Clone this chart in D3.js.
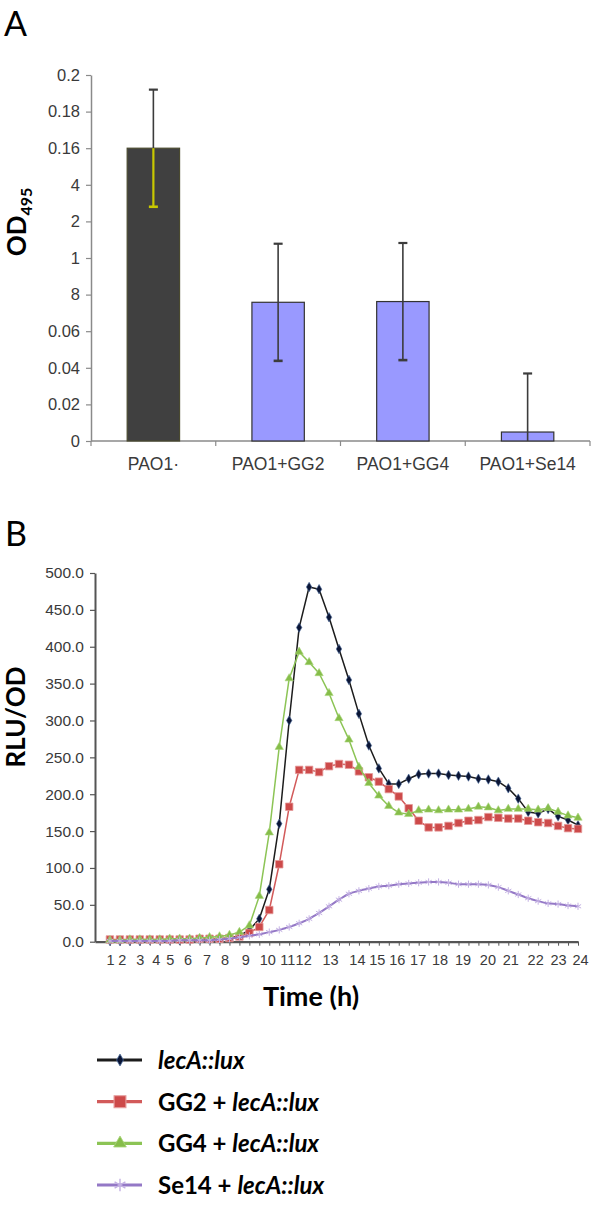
<!DOCTYPE html>
<html><head><meta charset="utf-8">
<script src="https://cdn.jsdelivr.net/npm/d3@7"></script>
<style>body{margin:0;background:#fff} svg{display:block;background:#fff}</style>
</head><body>
<svg id="c" width="600" height="1205"></svg>
<script>
// ---------- Panel A data ----------
const categoriesA = ["PAO1\u00b7", "PAO1+GG2", "PAO1+GG4", "PAO1+Se14"];
const od495 = [0.160, 0.0758, 0.0762, 0.0049];
const od495Err = [0.032, 0.032, 0.032, 0.032];
const yTicksA = [0, 0.02, 0.04, 0.06, 0.08, 0.10, 0.12, 0.14, 0.16, 0.18, 0.20];
const yTickLabelsA = ["0", "0.02", "0.04", "0.06", "8", "1", "2", "4", "0.16", "0.18", "0.2"];

// ---------- Panel B data ----------
const hourLabels = ["1","2","3","4","5","6","7","8","9","10","11","12","13","14","15","16","17","18","19","20","21","22","23","24"];
// sample index (reading) under which each hour label sits
const hourAtSample = [0, 1.2, 3, 4.6, 6, 7.8, 9.7, 11.5, 13.6, 15.8, 17.8, 19.4, 22.1, 24.8, 26.8, 28.8, 30.9, 33.1, 35.4, 37.9, 40.2, 42.7, 45, 47.2];
const lecA = [1,1,1,1,2,2,2,2,3,3,3,4,5,8,16,31,71,160,300,426,481,478,440,397,355,309,266,235,214,214,221,227,228,228,226,225,224,221,220,217,208,194,176,174,180,170,165,158];
const gg2  = [3,3,3,3,3,3,3,3,3,4,4,4,5,7,12,20,43,105,183,233,233,230,238,241,240,231,223,217,207,197,181,164,155,155,157,161,164,165,169,168,167,167,164,162,161,157,154,153];
const gg4  = [2,2,3,3,3,3,4,4,4,5,6,7,9,13,22,62,148,264,357,393,379,364,337,303,274,237,215,198,184,175,173,178,179,178,179,179,180,183,182,178,180,180,180,179,181,176,171,168];
const se14 = [1,1,1,1,1,1,1,2,2,2,2,3,4,6,8,10,13,16,20,25,31,39,48,57,65,69,72,75,76,78,79,80,81,81,80,78,78,78,77,74,69,64,59,55,52,51,49,48];
const yTicksB = [0,50,100,150,200,250,300,350,400,450,500];
const yTickLabelsB = ["0.0","50.0","100.0","150.0","200.0","250.0","300.0","350.0","400.0","450.0","500.0"];
const seriesNames = ["lecA::lux", "GG2 + lecA::lux", "GG4 + lecA::lux", "Se14 + lecA::lux"];

const svg = d3.select("#c");
const ARIAL = "'Liberation Sans', Arial, sans-serif";
const CAL = "Lato, 'Open Sans', sans-serif";

// ================= Panel A =================
svg.append("text").attr("x", 4).attr("y", 36).attr("font-family", CAL)
  .attr("font-size", 34).attr("fill", "#000").text("A");

const xA = d3.scaleBand().domain(categoriesA).range([91, 590]);
const yA = d3.scaleLinear().domain([0, 0.2]).range([441, 75]);

const gyA = svg.append("g").attr("transform", "translate(91,0)")
  .call(d3.axisLeft(yA).tickValues(yTicksA).tickFormat((d, i) => yTickLabelsA[i])
    .tickSize(5).tickSizeOuter(0).tickPadding(6));
gyA.select(".domain").attr("stroke", "#8a8a8a").attr("stroke-width", 1.5);
gyA.selectAll(".tick line").attr("stroke", "#8a8a8a").attr("stroke-width", 1.2);
gyA.selectAll("text").attr("font-family", ARIAL).attr("font-size", 16.5).attr("fill", "#3a3a3a");

// x axis with boundary ticks
const gxA = svg.append("g").attr("transform", "translate(0,441)");
gxA.append("line").attr("x1", xA.range()[0]).attr("x2", xA.range()[1])
  .attr("stroke", "#8a8a8a").attr("stroke-width", 1.5);
const bounds = categoriesA.map(c => xA(c)).concat([xA.range()[1]]);
gxA.selectAll("line.bt").data(bounds).join("line").attr("class", "bt")
  .attr("x1", d => d).attr("x2", d => d).attr("y1", 0).attr("y2", 5)
  .attr("stroke", "#8a8a8a").attr("stroke-width", 1.2);
gxA.selectAll("text").data(categoriesA).join("text")
  .attr("x", d => xA(d) + xA.bandwidth() / 2).attr("y", 29)
  .attr("text-anchor", "middle").attr("font-family", ARIAL).attr("font-size", 17.5)
  .attr("fill", "#3a3a3a").text(d => d);

// bars
const barW = xA.bandwidth() * 0.42;
svg.append("g").selectAll("rect").data(categoriesA).join("rect")
  .attr("x", d => xA(d) + (xA.bandwidth() - barW) / 2)
  .attr("y", (d, i) => yA(od495[i]))
  .attr("width", barW)
  .attr("height", (d, i) => yA(0) - yA(od495[i]))
  .attr("fill", (d, i) => i === 0 ? "#404040" : "#9999ff")
  .attr("stroke", (d, i) => i === 0 ? "#4a4a30" : "#333")
  .attr("stroke-width", 1.2);

// error bars
const gErr = svg.append("g");
categoriesA.forEach((c, i) => {
  const cx = xA(c) + xA.bandwidth() / 2;
  const hi = od495[i] + od495Err[i];
  const lo = Math.max(0, od495[i] - od495Err[i]);
  const upCol = "#3c3c3c";
  const loCol = i === 0 ? "#c8c800" : "#3c3c3c";
  gErr.append("line").attr("x1", cx).attr("x2", cx).attr("y1", yA(hi)).attr("y2", yA(od495[i]))
    .attr("stroke", upCol).attr("stroke-width", 1.6);
  gErr.append("line").attr("x1", cx - 4.5).attr("x2", cx + 4.5).attr("y1", yA(hi)).attr("y2", yA(hi))
    .attr("stroke", upCol).attr("stroke-width", 2.2);
  gErr.append("line").attr("x1", cx).attr("x2", cx).attr("y1", yA(od495[i])).attr("y2", yA(lo))
    .attr("stroke", loCol).attr("stroke-width", i === 0 ? 2.2 : 1.6);
  if (od495[i] - od495Err[i] > 0) {
    gErr.append("line").attr("x1", cx - 4.5).attr("x2", cx + 4.5).attr("y1", yA(lo)).attr("y2", yA(lo))
      .attr("stroke", loCol).attr("stroke-width", 2.6);
  }
});

// y title
const tA = svg.append("text").attr("transform", "translate(26,222) rotate(-90)")
  .attr("text-anchor", "middle").attr("font-family", CAL).attr("font-weight", "bold").attr("fill", "#000");
tA.append("tspan").attr("font-size", 26).text("OD");
tA.append("tspan").attr("font-size", 16).attr("dy", 6).text("495");

// ================= Panel B =================
svg.append("text").attr("x", 5).attr("y", 546).attr("font-family", CAL)
  .attr("font-size", 34).attr("fill", "#000").text("B");

const xB = d3.scaleLinear().domain([-1.5, 47]).range([95, 578]);
const yB = d3.scaleLinear().domain([0, 500]).range([941.7, 573]);

const gyB = svg.append("g").attr("transform", "translate(95,0)")
  .call(d3.axisLeft(yB).tickValues(yTicksB).tickFormat((d, i) => yTickLabelsB[i])
    .tickSize(5).tickSizeOuter(0).tickPadding(6));
gyB.select(".domain").attr("stroke", "#555").attr("stroke-width", 2);
gyB.selectAll(".tick line").attr("stroke", "#555").attr("stroke-width", 1.2);
gyB.selectAll("text").attr("font-family", ARIAL).attr("font-size", 15.5).attr("fill", "#3a3a3a");

const sampleIdx = d3.range(lecA.length);
const gxB = svg.append("g").attr("transform", "translate(0,941.7)")
  .call(d3.axisBottom(xB).tickValues(sampleIdx).tickFormat("").tickSize(4).tickSizeOuter(0));
gxB.select(".domain").attr("stroke", "#555").attr("stroke-width", 2.2);
gxB.selectAll(".tick line").attr("stroke", "#555").attr("stroke-width", 1);
const gxBl = svg.append("g").attr("transform", "translate(0,941.7)")
  .call(d3.axisBottom(xB).tickValues(hourAtSample).tickFormat((d, i) => hourLabels[i]).tickSize(0).tickPadding(13));
gxBl.select(".domain").remove();
gxBl.selectAll("text").attr("font-family", ARIAL).attr("font-size", 14.5).attr("fill", "#3a3a3a");

svg.append("text").attr("x", 311).attr("y", 1006).attr("text-anchor", "middle")
  .attr("font-family", CAL).attr("font-weight", "bold").attr("font-size", 27).attr("fill", "#000")
  .text("Time (h)");
svg.append("text").attr("transform", "translate(25,717) rotate(-90)").attr("text-anchor", "middle")
  .attr("font-family", CAL).attr("font-weight", "bold").attr("font-size", 26).attr("fill", "#000")
  .text("RLU/OD");

const seriesData = [lecA, gg2, gg4, se14];
const styles = [
  { line: "#1c1c1c", lw: 1.5, sym: d3.symbolDiamond, size: 26, legSize: 40, fill: "#0b1535", stroke: "#4a6a9a", sw: 0.6, curve: d3.curveLinear },
  { line: "#d25a5a", lw: 1.5, sym: d3.symbolSquare, size: 56, legSize: 140, fill: "#cd4a4a", stroke: "#e59a9a", sw: 0.8, curve: d3.curveLinear },
  { line: "#8cc455", lw: 1.5, sym: d3.symbolTriangle, size: 30, legSize: 70, fill: "#86bd4a", stroke: "#a8d57a", sw: 0.6, curve: d3.curveLinear },
  { line: "#9478c6", lw: 2, sym: d3.symbolAsterisk, size: 36, legSize: 110, fill: "none", stroke: "#c3b0e3", sw: 1, curve: d3.curveMonotoneX }
];
const gLines = svg.append("g");
seriesData.forEach((vals, s) => {
  const st = styles[s];
  const line = d3.line().x((d, i) => xB(i)).y(d => yB(d)).curve(st.curve);
  gLines.append("path").datum(vals).attr("d", line).attr("fill", "none")
    .attr("stroke", st.line).attr("stroke-width", st.lw).attr("stroke-linejoin", "round");
  gLines.append("g").selectAll("path").data(vals).join("path")
    .attr("transform", (d, i) => `translate(${xB(i)},${yB(d)})`)
    .attr("d", d3.symbol().type(st.sym).size(st.size))
    .attr("fill", st.fill).attr("stroke", st.stroke).attr("stroke-width", st.sw);
});

// legend
const legRowsY = d3.scalePoint().domain(seriesNames).range([1060, 1185]);
const gLeg = svg.append("g");
seriesNames.forEach((name, s) => {
  const st = styles[s];
  const y = legRowsY(name);
  gLeg.append("line").attr("x1", 97).attr("x2", 142).attr("y1", y).attr("y2", y)
    .attr("stroke", st.line).attr("stroke-width", 3.2);
  gLeg.append("path").attr("transform", `translate(120,${y})`)
    .attr("d", d3.symbol().type(st.sym).size(st.legSize))
    .attr("fill", st.fill).attr("stroke", st.stroke).attr("stroke-width", st.sw * 1.4);
  const t = gLeg.append("text").attr("x", 158).attr("y", y + 9)
    .attr("font-family", CAL).attr("font-weight", "bold").attr("font-size", 24).attr("fill", "#000");
  const parts = name.split("lecA::lux");
  if (parts[0]) t.append("tspan").text(parts[0].replace(/ $/, "\u00a0"));
  t.append("tspan").attr("font-style", "italic").text("lecA::lux");
});
</script>
</body></html>
